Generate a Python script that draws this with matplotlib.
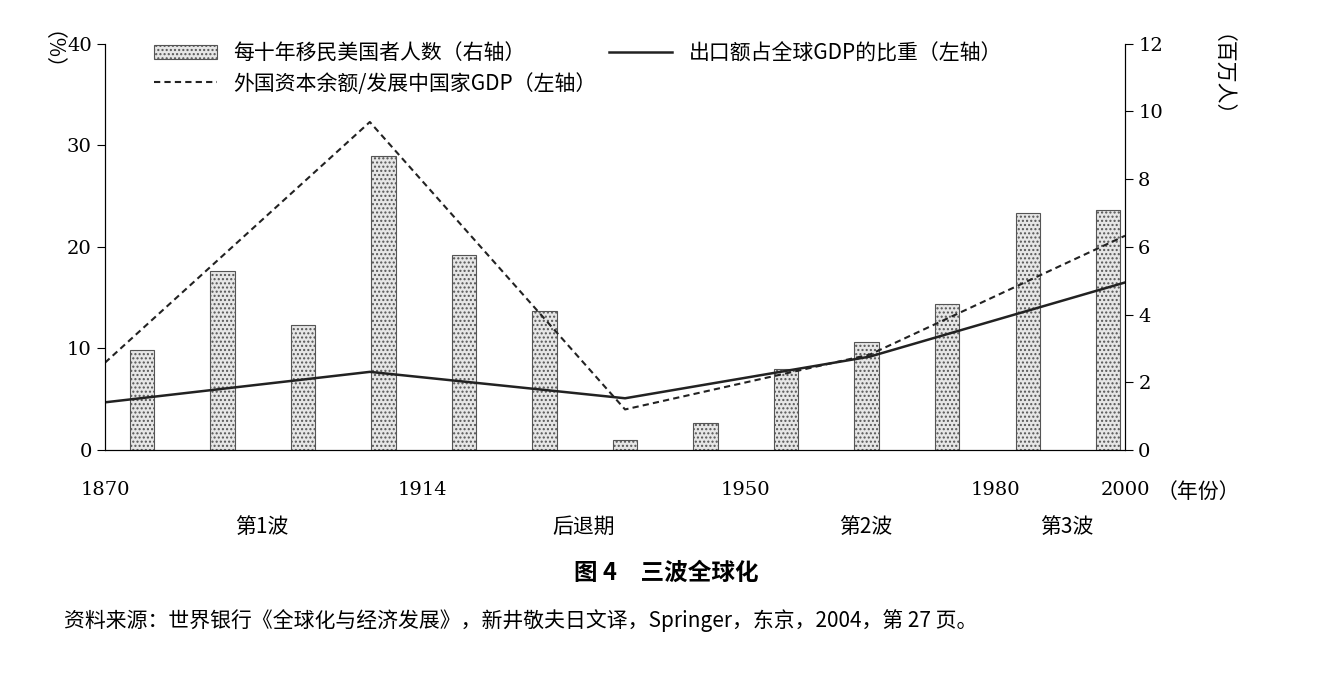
import matplotlib.pyplot as plt
import numpy as np

plt.rcParams['font.family'] = ['Noto Sans CJK SC', 'DejaVu Sans']

# 每十年移民美国者人数（百万人），1870s-1990s
bar_x = np.arange(13) + 0.46
imm = [2.97, 5.3, 3.7, 8.7, 5.75, 4.1, 0.3, 0.8, 2.4, 3.2, 4.3, 7.0, 7.1]

# 折线节点（横轴位置，%）
line_x = [0, 3.29, 6.46, 9.5, 12.67]
export_share = [4.7, 7.7, 5.1, 9.2, 16.5]
foreign_cap = [8.6, 32.3, 4.0, 9.4, 21.1]

tick_pos = [0, 3.94, 7.95, 11.06, 12.67]
tick_labels = ['1870', '1914', '1950', '1980', '2000']
wave_pos = [1.95, 5.95, 9.45, 11.95]
wave_labels = ['第1波', '后退期', '第2波', '第3波']

fig = plt.figure(figsize=(13.32, 6.84), dpi=100)
ax = fig.add_axes([0.0788, 0.342, 0.7658, 0.594])
ax2 = ax.twinx()

b = ax2.bar(bar_x, imm, width=0.3, color='#e6e6e6', edgecolor='#555555',
            linewidth=0.8, hatch='....', label='每十年移民美国者人数（右轴）')
ax2.set_ylim(0, 12)
ax2.set_yticks(range(0, 13, 2))

l1, = ax.plot(line_x, export_share, color='#222222', lw=1.8, label='出口额占全球GDP的比重（左轴）')
l2, = ax.plot(line_x, foreign_cap, color='#222222', lw=1.5, ls=(0, (3, 2)),
              label='外国资本余额/发展中国家GDP（左轴）')
ax.set_zorder(ax2.get_zorder() + 1)
ax.patch.set_visible(False)
ax.set_ylim(0, 40)
ax.set_xlim(0, 12.67)
ax.set_yticks(range(0, 41, 10))
ax.set_xticks(tick_pos)
ax.set_xticklabels(tick_labels, fontsize=14, fontfamily='DejaVu Serif')
ax.tick_params(axis='x', length=0, pad=22)
for a in (ax, ax2):
    a.spines['top'].set_visible(False)
    a.tick_params(axis='y', labelsize=14, direction='out', length=6)
for t in ax.get_yticklabels() + ax2.get_yticklabels():
    t.set_fontfamily('DejaVu Serif')

for p, s in zip(wave_pos, wave_labels):
    ax.text(p, -7.6, s, ha='center', va='center', fontsize=15)
fig.text(0.868, 0.28, '（年份）', fontsize=15, va='center')
fig.text(0.022, 0.955, '（%）', rotation=270, fontsize=15, va='top')
fig.text(0.9, 0.95, '（百万人）', rotation=270, fontsize=15, va='top')

ax.legend([b, l2, l1], [b.get_label(), l2.get_label(), l1.get_label()], ncol=2,
          loc='upper left', bbox_to_anchor=(0.03, 1.05), frameon=False,
          fontsize=15, handlelength=3, columnspacing=0.6, labelspacing=0.4)

fig.text(0.5, 0.152, '图 4　三波全球化', ha='center', fontsize=17, fontweight='bold')
fig.text(0.048, 0.083, '资料来源：世界银行《全球化与经济发展》，新井敬夫日文译，Springer，东京，2004，第 27 页。',
         fontsize=15)

fig.savefig('out.png', dpi=100)
